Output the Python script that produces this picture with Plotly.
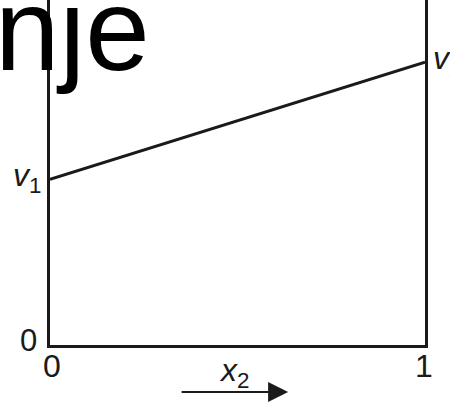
import plotly.graph_objects as go

# Linear mixing line between the two pure-component values
x_vals = [0, 1]
y_vals = [0.48, 0.82]
x_ticks = [0, 1]
x_ticklabels = ["0", "1"]
y_ticks = [0]
y_ticklabels = ["0"]

FONT = "Liberation Sans, Arial, sans-serif"
INK = "#1a1a1a"

fig = go.Figure()
fig.add_trace(go.Scatter(
    x=x_vals, y=y_vals, mode="lines",
    line=dict(color=INK, width=3), showlegend=False, hoverinfo="skip",
))

fig.update_layout(
    width=450, height=404,
    margin=dict(l=50, r=25, t=0, b=59),
    paper_bgcolor="white", plot_bgcolor="white",
    font=dict(family=FONT, color="black"),
    xaxis=dict(
        range=[0, 1], showgrid=False, zeroline=False,
        showline=True, linecolor=INK, linewidth=3, mirror=False,
        showticklabels=False, ticks="",
    ),
    yaxis=dict(
        range=[0, 1], showgrid=False, zeroline=False,
        showline=True, linecolor=INK, linewidth=3, mirror=True,
        showticklabels=False, ticks="",
    ),
)

# Tick labels placed at their data positions
for xv, lab in zip(x_ticks, x_ticklabels):
    fig.add_annotation(x=xv, y=0, xref="x", yref="paper", text=lab,
                       showarrow=False, xanchor="center", yanchor="top",
                       xshift=2 if xv == 0 else -1, yshift=-1,
                       font=dict(size=32, family=FONT, color=INK))
for yv, lab in zip(y_ticks, y_ticklabels):
    fig.add_annotation(x=0, y=yv, xref="paper", yref="y", text=lab,
                       showarrow=False, xanchor="right", yanchor="middle",
                       xshift=-11, yshift=5,
                       font=dict(size=31, family=FONT, color=INK))

# Endpoint labels
fig.add_annotation(x=x_vals[0], y=y_vals[0], xref="x", yref="y",
                   text="<i>v</i><sub>1</sub>", showarrow=False,
                   xanchor="right", yanchor="middle", xshift=-7, yshift=2,
                   font=dict(size=32, family=FONT, color=INK))
fig.add_annotation(x=x_vals[1], y=y_vals[1], xref="x", yref="y",
                   text="<i>v</i><sub>2</sub>", showarrow=False,
                   xanchor="left", yanchor="middle", xshift=6, yshift=2,
                   font=dict(size=32, family=FONT, color=INK))

# Axis label with direction arrow
fig.add_annotation(x=0.49, y=-0.08, xref="paper", yref="paper",
                   text="<i>x</i><sub>2</sub>", showarrow=False,
                   xanchor="center", yanchor="middle",
                   font=dict(size=32, family=FONT, color=INK))
fig.add_annotation(x=0.635, y=-0.136, xref="paper", yref="paper",
                   text="", showarrow=True, axref="pixel", ayref="pixel",
                   ax=-108, ay=0, arrowhead=2, arrowsize=2.0, arrowwidth=2,
                   arrowcolor=INK)

# Title
fig.add_annotation(x=0.272, y=0.9125, xref="paper", yref="paper",
                   text="nje", showarrow=False,
                   xanchor="right", yanchor="middle",
                   font=dict(size=116, family=FONT, color="black"))

fig.write_html("out.html")
